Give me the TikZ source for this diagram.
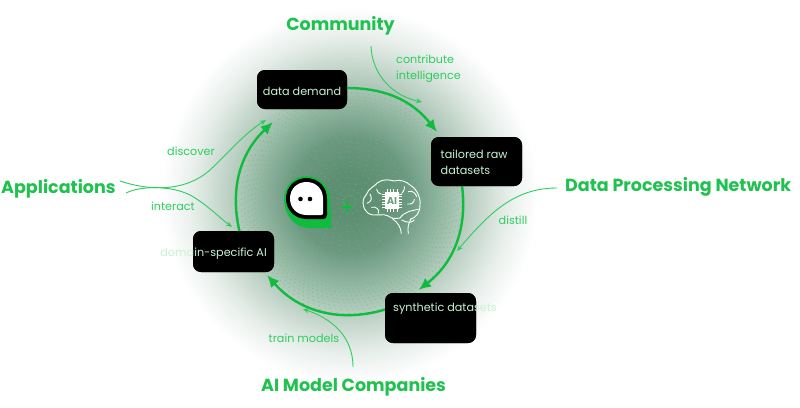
\documentclass[tikz,border=0pt]{standalone}
\usepackage{fontspec}
\setmainfont{Poppins}
\usetikzlibrary{arrows.meta,calc}
\definecolor{grn}{HTML}{1FC24F}
\definecolor{grnb}{HTML}{10BC3F}
\definecolor{grnt}{HTML}{2ECC5F}
\definecolor{pale}{HTML}{C8F3D2}
\definecolor{dotc}{HTML}{3BD868}
\definecolor{chipc}{HTML}{6E9F82}
\definecolor{HaloA}{HTML}{5F8F72}
\definecolor{HaloB}{HTML}{6C9880}
\definecolor{HaloC}{HTML}{B4CBBD}
\definecolor{HaloD}{HTML}{E7EEEA}
\pgfdeclareradialshading{halo}{\pgfpoint{0bp}{0bp}}{%
  color(0bp)=(HaloA);color(3bp)=(HaloA);color(7.5bp)=(HaloB);color(15bp)=(HaloC);color(20.5bp)=(HaloD);color(24.5bp)=(white);color(50bp)=(white)}
\tikzset{
  box/.style={fill=black,rounded corners=8pt,inner sep=0pt,draw=none},
  boxtext/.style={text=pale,font=\fontsize{11.2}{16}\selectfont,inner sep=0pt},
  head/.style={text=grn,font=\fontsize{17.5}{20}\selectfont\bfseries,inner sep=0pt},
  verb/.style={text=grnt,font=\fontsize{11.2}{16}\selectfont,inner sep=0pt},
  ringarrow/.style={draw=grnb,line width=2.4pt,-{Latex[length=12pt,width=11pt]}},
  thin arrow/.style={draw=grnt,line width=0.9pt,-{Stealth[length=6pt,width=5pt]}},
  brainline/.style={draw=white,line width=0.9pt,line cap=round,line join=round},
}
\begin{document}
\begin{tikzpicture}[x=1pt,y=-1pt]
\useasboundingbox (0,0) rectangle (800,407);
\fill[white] (0,0) rectangle (800,407);
% halo
\shade[shading=halo] (350,195) circle (192);
% dot lattice: radial fans, curving slightly, thinning towards the centre
\begin{scope}[shift={(349.5,201.5)}]
\foreach \r/\st in {112/1,108.5/1,105/1,101.5/1,98/1,94.5/1,91/1,87.5/1,84/1,80/2,76/2,72/2,68/2,64/2,60/2,55/4,50/4,45/4,40/4,35/4,30/4,24/8,18/8,12/8,6/8}{
  \foreach \j in {0,\st,...,119}{
    \fill[dotc,opacity=.7] ({3*\j+30*(1-\r/113)}:\r) circle (0.6);
  }
}
\end{scope}
% boxes
\node[box,minimum width=90pt,minimum height=39pt] (dd) at (302,89.5) {};
\node[box,minimum width=91pt,minimum height=49pt] (tr) at (476.5,161.5) {};
\node[box,minimum width=91pt,minimum height=50pt] (sd) at (430.5,318) {};
\node[box,minimum width=81pt,minimum height=41pt] (ds) at (233.5,251.5) {};
\coordinate (tipA) at ($(tr.north west)+(6,-5)$);
\coordinate (tipB) at ($(sd.north west)+(34,-3)$);
\coordinate (tipC) at ($(ds.south east)+(-7,3)$);
\coordinate (tipD) at ($(dd.south west)+(16,13)$);
% ring
\draw[ringarrow] ($(dd.east)+(-1,-1.5)$) to[bend left=26] (tipA);
\draw[ringarrow] ($(tr.south west)+(31,-2)$) to[bend left=30] (tipB);
\draw[ringarrow] ($(sd.west)+(2,-9)$) to[bend left=33] (tipC);
\draw[ringarrow] ($(ds.north west)+(47,2)$) to[bend left=30] (tipD);
% redraw boxes above ring
\node[box,minimum width=90pt,minimum height=39pt] at (dd) {};
\node[box,minimum width=91pt,minimum height=49pt] at (tr) {};
\node[box,minimum width=91pt,minimum height=50pt] at (sd) {};
\node[box,minimum width=81pt,minimum height=41pt] at (ds) {};
% box labels
\node[boxtext] (ddt) at (302,91) {data demand};
\node[boxtext,align=left,anchor=west] (trt) at (440.5,162) {tailored raw\\datasets};
\node[boxtext,anchor=west] (sdt) at (393,308.5) {synthetic datasets};
\node[boxtext,anchor=east] (dst) at (267,253.5) {domain-specific AI};
% headings
\node[head] (comm) at (340.5,26) {Community};
\node[head,anchor=west] (appl) at (1,189) {Applications};
\node[head,anchor=west] (dpn) at (565,187) {Data Processing Network};
\node[head,anchor=west] (aimc) at (261,387) {AI Model Companies};
% verbs
\node[verb,align=left,anchor=west] (ci) at (396,68.5) {contribute\\intelligence};
\node[verb] (disc) at (191,151) {discover};
\node[verb] (intr) at (173,206) {interact};
\node[verb] (dist) at (513,220) {distill};
\node[verb] (trm) at (304,338) {train models};
% thin connectors
\coordinate (cS) at (371,46);
\coordinate (cT) at (422,102);
\draw[thin arrow] (cS) .. controls (372,75) and (393,96) .. (cT);
\coordinate (aS) at (120,181);
\coordinate (aT) at (266,120);
\draw[thin arrow] (aS) .. controls (150,191) and (185,192) .. (210,170) .. controls (228,153) and (245,133) .. (aT);
\coordinate (bS) at (126,193);
\coordinate (bT) at (232,227);
\draw[thin arrow] (bS) .. controls (140,186) and (170,185) .. (190,195) .. controls (205,203) and (220,218) .. (bT);
\coordinate (mS) at (353,367);
\coordinate (mT) at (303,309);
\draw[thin arrow] (mS) .. controls (353,335) and (330,318) .. (mT);
\coordinate (pS) at (557,188);
\coordinate (pT) at (457,251);
\draw[thin arrow] (pS) .. controls (515,188) and (490,212) .. (pT);
% chat icon
\fill[grnb] (284,199) .. controls (284,186) and (294,176) .. (306,176) .. controls (320,176) and (330,187) .. (330,200) -- (331.5,228) -- (309,228) .. controls (294,228) and (284,214) .. (284,199) -- cycle;
\fill[black] (286,198.5) .. controls (286,187) and (295,178) .. (306.5,178) .. controls (318,178) and (327,187) .. (327,198.5) -- (327,215) .. controls (327,218) and (325,219) .. (323,219) -- (306.5,219) .. controls (295,219) and (286,210) .. (286,198.5) -- cycle;
\fill[white] (290,198.5) .. controls (290,189) and (297,182) .. (306.5,182) .. controls (316,182) and (323,189) .. (323,198.5) -- (323,213) .. controls (323,214.5) and (322.5,215) .. (321,215) -- (306.5,215) .. controls (297,215) and (290,208) .. (290,198.5) -- cycle;
\fill[black] (300.5,199) circle (2.3) (310,199) circle (2.3);
% plus
\draw[grnb,line width=2pt] (341,206.5) -- (352,206.5) (346.5,201) -- (346.5,212);
% brain
\begin{scope}[shift={(355,170)},x=0.3333pt,y=-0.3333pt]
\draw[brainline] (40,130) .. controls (20,115) and (20,85) .. (35,72) .. controls (40,55) and (58,50) .. (68,38) .. controls (85,25) and (105,30) .. (118,33) .. controls (135,27) and (155,35) .. (165,45) .. controls (185,55) and (198,85) .. (195,105) .. controls (197,125) and (182,145) .. (165,148);
\draw[brainline] (40,130) .. controls (60,142) and (85,128) .. (100,138) .. controls (110,147) and (125,146) .. (135,144);
\draw[brainline] (112,146) .. controls (130,158) and (137,172) .. (139,190);
\draw[brainline] (160,190) .. controls (157,175) and (160,160) .. (168,148);
\draw[brainline] (135,144) .. controls (150,122) and (175,122) .. (190,118);
\draw[brainline] (140,150) .. controls (155,158) and (170,160) .. (178,150);
\draw[brainline] (45,72) .. controls (52,85) and (50,95) .. (36,100);
\draw[brainline] (65,58) .. controls (66,65) and (72,72) .. (78,72);
\draw[brainline] (50,112) .. controls (62,108) and (75,118) .. (70,130);
\draw[brainline] (160,65) .. controls (172,60) and (182,70) .. (185,80);
\draw[brainline] (178,88) .. controls (178,98) and (168,104) .. (158,102);
\draw[brainline] (148,50) .. controls (150,60) and (142,68) .. (140,70);
% chip
\fill[white] (90,66) rectangle (132,118);
\foreach \yy in {72,80,88,96,104,112}{
  \draw[white,line width=0.9pt] (81,\yy) -- (141,\yy);
}
\foreach \xx in {96,106,116,126}{
  \draw[white,line width=0.9pt] (\xx,57) -- (\xx,127);
}
\node[text=chipc,font=\fontsize{10}{10}\selectfont\bfseries,inner sep=0pt] (chipt) at (111,92) {AI};
\end{scope}
\end{tikzpicture}
\end{document}
